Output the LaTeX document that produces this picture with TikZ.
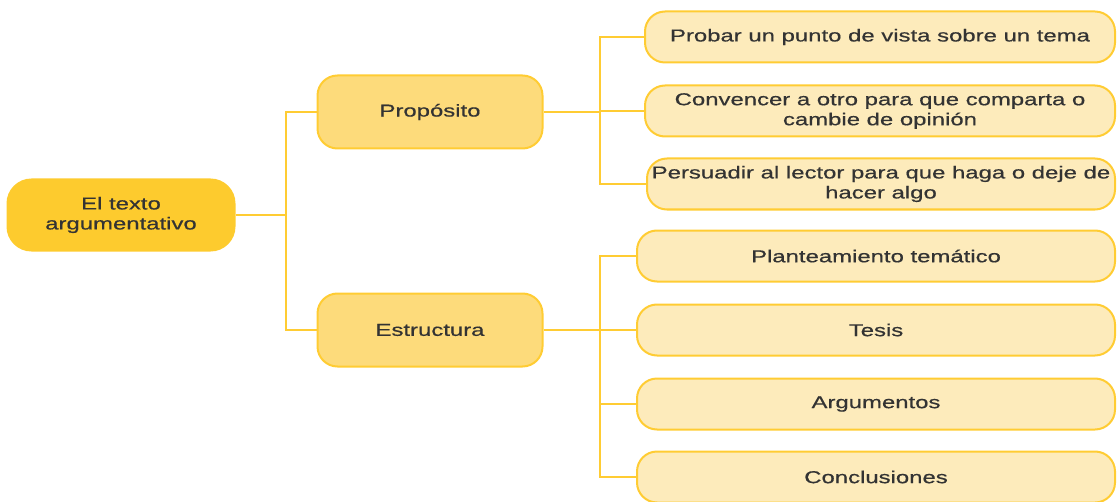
\documentclass[tikz,border=0pt]{standalone}
\usepackage{fontspec}
\setmainfont[FakeStretch=1.39,FakeBold=0.6]{Liberation Sans}
\definecolor{oro}{HTML}{FDCB2E}
\definecolor{miel}{HTML}{FDDB7B}
\definecolor{crema}{HTML}{FDEBBB}
\definecolor{borde}{HTML}{FFCC33}
\definecolor{tinta}{HTML}{333333}
\tikzset{
  caja/.style={draw=borde, line width=1pt, rounded corners=10pt, align=center,
    text=tinta, font=\fontsize{8.6}{10}\selectfont, inner sep=2pt},
  raiz/.style={caja, fill=oro, draw=oro, minimum width=113.5pt, minimum height=35.5pt, rounded corners=12pt},
  rama/.style={caja, fill=miel, minimum width=112.5pt, minimum height=36.5pt},
  hoja/.style={caja, fill=crema, minimum height=25.5pt},
  enlace/.style={draw=borde, line width=0.9pt}
}
\begin{document}
\begin{tikzpicture}[x=0.5pt,y=-0.5pt]
  \useasboundingbox (0,0) rectangle (1117,502);
  % raiz y ramas
  \node [raiz] (texto) at (121,215) {El texto\\argumentativo};
  \node [rama] (prop) at (430,112) {Propósito};
  \node [rama] (estr) at (430,330) {Estructura};
  % hojas de Propósito
  \node [hoja, minimum width=235pt] (probar) at (880,37) {Probar un punto de vista sobre un tema};
  \node [hoja, minimum width=235pt] (convencer) at (880,111) {Convencer a otro para que comparta o\\cambie de opinión};
  \node [hoja, minimum width=234pt] (persuadir) at (881,184) {Persuadir al lector para que haga o deje de\\hacer algo};
  % hojas de Estructura
  \node [hoja, minimum width=239pt] (plant) at (876,256) {Planteamiento temático};
  \node [hoja, minimum width=239pt] (tesis) at (876,330) {Tesis};
  \node [hoja, minimum width=239pt] (argum) at (876,404) {Argumentos};
  \node [hoja, minimum width=239pt] (concl) at (876,477) {Conclusiones};
  % conectores
  \coordinate (c1) at (286,215);
  \coordinate (c2) at (600,112);
  \coordinate (c3) at (600,330);
  \draw [enlace] (texto) -- (c1);
  \draw [enlace] (c1) |- (prop);
  \draw [enlace] (c1) |- (estr);
  \draw [enlace] (prop) -- (c2);
  \draw [enlace] (c2) |- (probar);
  \draw [enlace] (c2) |- (convencer);
  \draw [enlace] (c2) |- (persuadir);
  \draw [enlace] (estr) -- (c3);
  \draw [enlace] (c3) |- (plant);
  \draw [enlace] (c3) |- (tesis);
  \draw [enlace] (c3) |- (argum);
  \draw [enlace] (c3) |- (concl);
\end{tikzpicture}
\end{document}
